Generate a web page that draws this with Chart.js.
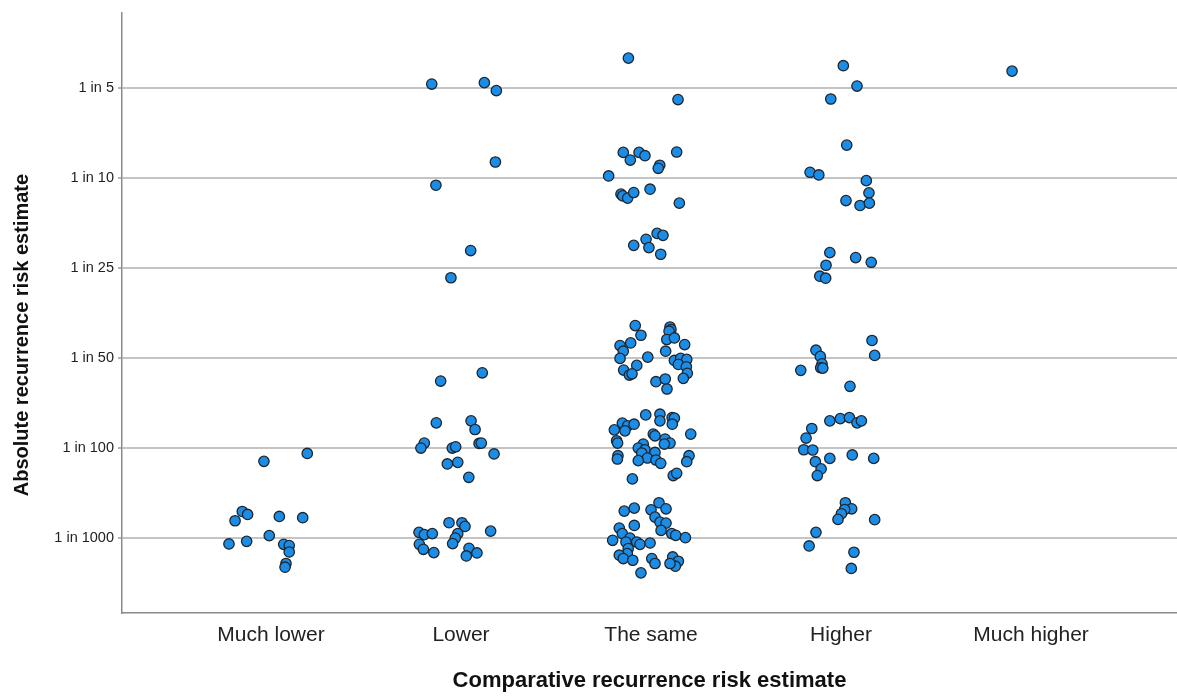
<!DOCTYPE html>
<html>
<head>
<meta charset="utf-8">
<script src="https://cdn.jsdelivr.net/npm/chart.js@4/dist/chart.umd.min.js"></script>
<style>
  html, body { margin: 0; padding: 0; background: #ffffff; }
  #wrap { width: 1177px; height: 697px; position: relative; }
</style>
</head>
<body>
<div id="wrap"><canvas id="c" width="1177" height="697"></canvas></div>
<script>
// Categories (x) and ordinal risk levels (y)
const categories = ['Much lower', 'Lower', 'The same', 'Higher', 'Much higher'];
const riskTickLabels = ['1 in 1000', '1 in 100', '1 in 50', '1 in 25', '1 in 10', '1 in 5'];

// Each point: jitter offset from its category, and risk level (0 = 1 in 1000 ... 5 = 1 in 5, with vertical jitter)
const muchLowerJitter = [-0.037, 0.191, -0.151, -0.123, -0.189, 0.044, 0.167, -0.009, -0.221, -0.128, 0.067, 0.096, 0.096, 0.079, 0.074];
const muchLowerRisk   = [0.852, 0.940, 0.295, 0.262, 0.192, 0.240, 0.226, 0.027, -0.066, -0.037, -0.070, -0.084, -0.155, -0.283, -0.324];

const lowerJitter = [-0.154, 0.123, 0.186, 0.181, -0.132, 0.051, -0.053, 0.112, -0.107, -0.130, 0.053, 0.074, -0.193, -0.211, -0.046, -0.028, 0.095, 0.107, 0.174, -0.072, -0.017, 0.041, -0.063, 0.005, 0.021, 0.156, -0.221, -0.193, -0.151, -0.017, -0.030, -0.219, -0.044, -0.198, -0.143, 0.042, 0.084, 0.028];
const lowerRisk   = [5.044, 5.060, 4.971, 4.178, 3.920, 3.194, 2.892, 1.836, 1.744, 1.280, 1.302, 1.206, 1.055, 1.000, 1.000, 1.014, 1.051, 1.055, 0.934, 0.823, 0.841, 0.675, 0.170, 0.170, 0.129, 0.077, 0.063, 0.038, 0.049, 0.049, 0.000, -0.070, -0.062, -0.125, -0.162, -0.114, -0.166, -0.199];

const sameJitter = [
  -0.119, 0.142, -0.146, -0.063, -0.032, -0.109, 0.135, 0.046, 0.038, -0.223, -0.158, -0.149, -0.123, -0.091, -0.005, 0.149, 0.032, 0.063, -0.026, -0.091, -0.011, 0.051,
  -0.083, -0.053, -0.107, -0.163, -0.146, -0.163, -0.017, -0.075, -0.144, -0.114, -0.100, 0.100, 0.105, 0.095, 0.083, 0.123, 0.177, 0.077, 0.123, 0.156, 0.188, 0.144, 0.186, 0.191, 0.170, 0.026, 0.075, 0.084,
  -0.028, 0.047, 0.047, 0.111, 0.123, 0.112, -0.151, -0.123, -0.089, -0.193, -0.137, 0.012, 0.021, 0.074, 0.100, 0.070, 0.209, -0.181, -0.176, -0.041, -0.067, -0.032, -0.049, 0.021, -0.019, -0.174, -0.177, -0.067, 0.026, 0.051, 0.200, 0.188, 0.117, 0.135, -0.098,
  -0.141, -0.088, 0.000, 0.042, 0.079, 0.021, 0.047, 0.079, -0.088, -0.167, -0.151, 0.053, 0.109, 0.130, 0.181, -0.202, -0.111, -0.132, -0.075, -0.058, -0.005, -0.120, -0.125, -0.167, -0.146, -0.096, 0.004, 0.021, 0.114, 0.144, 0.128, 0.100, -0.053
];
const sameRisk = [
  5.332, 4.872, 4.285, 4.285, 4.248, 4.200, 4.289, 4.142, 4.108, 4.023, 3.821, 3.802, 3.777, 3.839, 3.876, 3.721, 3.385, 3.363, 3.319, 3.252, 3.227, 3.153,
  2.361, 2.253, 2.168, 2.139, 2.076, 1.996, 2.010, 1.918, 1.866, 1.811, 1.825, 2.345, 2.316, 2.298, 2.206, 2.223, 2.150, 2.076, 1.973, 1.996, 1.985, 1.929, 1.903, 1.830, 1.774, 1.737, 1.767, 1.656,
  1.368, 1.376, 1.302, 1.338, 1.332, 1.265, 1.277, 1.247, 1.265, 1.202, 1.191, 1.155, 1.136, 1.100, 1.055, 1.044, 1.155, 1.081, 1.055, 1.044, 1.000, 0.981, 0.945, 0.951, 0.889, 0.915, 0.878, 0.860, 0.867, 0.830, 0.915, 0.848, 0.694, 0.719, 0.657,
  0.299, 0.332, 0.314, 0.392, 0.325, 0.232, 0.177, 0.166, 0.140, 0.111, 0.049, 0.085, 0.049, 0.030, 0.004, -0.025, 0.000, -0.044, -0.044, -0.070, -0.055, -0.117, -0.173, -0.191, -0.228, -0.247, -0.228, -0.283, -0.210, -0.258, -0.313, -0.283, -0.387
];

const higherJitter = [0.012, 0.084, -0.054, 0.030, -0.163, -0.117, 0.133, 0.147, 0.026, 0.100, 0.149, -0.059, 0.077, 0.159, -0.079, -0.112, -0.081, 0.163, -0.132, -0.109, 0.177, -0.100, -0.107, -0.096, -0.212, 0.047, -0.059, -0.004, 0.044, 0.084, 0.107, -0.154, -0.184, -0.196, -0.149, -0.059, 0.059, 0.172, -0.135, -0.105, -0.125, 0.023, 0.056, 0.019, 0.002, -0.016, 0.177, -0.132, -0.168, 0.068, 0.054];
const higherRisk   = [5.248, 5.022, 4.878, 4.366, 4.064, 4.034, 3.971, 3.835, 3.750, 3.695, 3.721, 3.171, 3.116, 3.064, 3.031, 2.909, 2.887, 2.195, 2.087, 2.018, 2.029, 1.936, 1.892, 1.888, 1.863, 1.686, 1.302, 1.327, 1.338, 1.280, 1.302, 1.217, 1.111, 0.981, 0.978, 0.885, 0.923, 0.885, 0.848, 0.768, 0.694, 0.392, 0.325, 0.317, 0.270, 0.207, 0.204, 0.063, -0.088, -0.158, -0.338];

const muchHigherJitter = [-0.100];
const muchHigherRisk   = [5.188];

const groups = [
  [muchLowerJitter, muchLowerRisk],
  [lowerJitter, lowerRisk],
  [sameJitter, sameRisk],
  [higherJitter, higherRisk],
  [muchHigherJitter, muchHigherRisk]
];
const points = [];
groups.forEach((g, ci) => {
  g[0].forEach((j, k) => points.push({ x: ci + j, y: g[1][k] }));
});

const catTickValues = categories.map((_, i) => i);
const riskTickValues = riskTickLabels.map((_, i) => i);

new Chart(document.getElementById('c'), {
  type: 'scatter',
  data: {
    datasets: [{
      data: points,
      pointRadius: 5.2,
      pointHoverRadius: 5.2,
      pointBackgroundColor: '#1b8de6',
      pointBorderColor: '#1e2630',
      pointBorderWidth: 1.3
    }]
  },
  options: {
    responsive: false,
    animation: false,
    devicePixelRatio: 1,
    layout: { autoPadding: false, padding: { top: 8, right: 0, bottom: 0, left: 0 } },
    plugins: { legend: { display: false }, tooltip: { enabled: false } },
    scales: {
      x: {
        type: 'linear',
        min: -0.784,
        max: 4.768,
        afterBuildTicks: (s) => { s.ticks = catTickValues.map(v => ({ value: v })); },
        afterFit: (s) => { s.height = 84; s.paddingLeft = 0; s.paddingRight = 0; },
        ticks: {
          autoSkip: false,
          maxRotation: 0,
          padding: 10,
          color: '#222222',
          font: { family: '"Liberation Sans", Arial, sans-serif', size: 21 },
          callback: (v) => categories[Math.round(v)]
        },
        grid: { display: true, drawOnChartArea: false, drawTicks: false, color: 'rgba(0,0,0,0)' },
        border: { display: true, color: '#8a8a8a', width: 1.5 },
        title: {
          display: true,
          text: 'Comparative recurrence risk estimate',
          color: '#111111',
          font: { family: '"Liberation Sans", Arial, sans-serif', size: 22, weight: 'bold' },
          padding: { top: 4, bottom: 3 }
        }
      },
      y: {
        type: 'linear',
        min: -0.833,
        max: 5.837,
        afterBuildTicks: (s) => { s.ticks = riskTickValues.map(v => ({ value: v })); },
        afterFit: (s) => { s.width = 122; },
        ticks: {
          autoSkip: false,
          padding: 4,
          color: '#222222',
          font: { family: '"Liberation Sans", Arial, sans-serif', size: 14.5 },
          callback: (v) => riskTickLabels[Math.round(v)]
        },
        grid: { color: '#c4c4c4', lineWidth: 2, tickLength: 4, tickColor: '#9a9a9a', tickWidth: 1.5 },
        border: { display: true, color: '#8a8a8a', width: 1.5 },
        title: {
          display: true,
          text: 'Absolute recurrence risk estimate        ',
          color: '#111111',
          font: { family: '"Liberation Sans", Arial, sans-serif', size: 20, weight: 'bold' },
          padding: { top: 10, bottom: 4 }
        }
      }
    }
  }
});
</script>
</body>
</html>
